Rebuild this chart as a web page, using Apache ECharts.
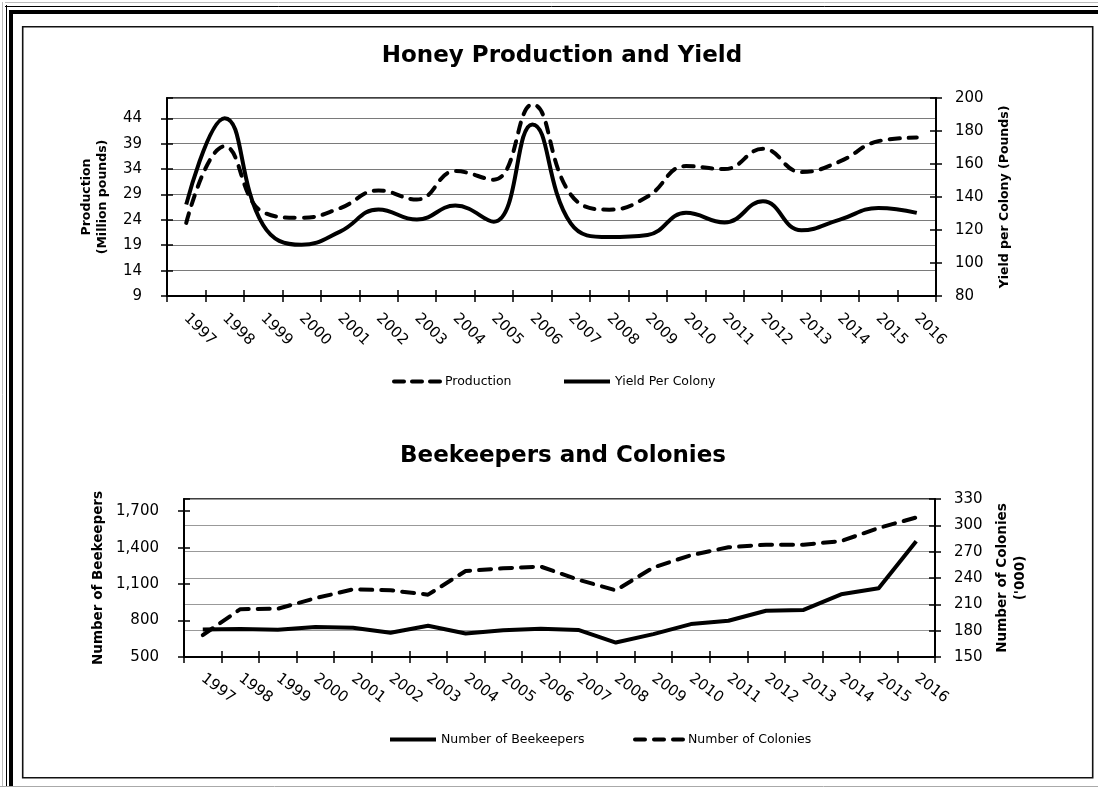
<!DOCTYPE html>
<html>
<head>
<meta charset="utf-8">
<script src="https://cdn.jsdelivr.net/npm/echarts@6/dist/echarts.min.js"></script>
<style>
html,body{margin:0;padding:0;background:#fff;}
#c{width:1098px;height:787px;}
</style>
</head>
<body>
<div id="c"></div>
<script>
const years = ['1997','1998','1999','2000','2001','2002','2003','2004','2005','2006','2007','2008','2009','2010','2011','2012','2013','2014','2015','2016'];
const production = [23.4, 38.5, 25.5, 24.4, 26.3, 29.8, 28.0, 33.6, 31.9, 46.7, 29.0, 26.0, 28.6, 34.6, 34.0, 38.0, 33.4, 35.5, 39.5, 40.2];
const yieldPerColony = [135.4, 187.8, 123, 111, 119, 132.4, 126.3, 134.8, 125, 184, 124, 115.7, 117, 130.4, 124.6, 137.4, 119.8, 126.3, 133.4, 130.4];
const beekeepers = [727, 730, 725, 746, 740, 699, 757, 694, 720, 732, 723, 619, 688, 771, 798, 881, 887, 1016, 1066, 1452];
const colonies = [175, 204.5, 205, 217, 227, 226, 221, 248, 251, 253, 238, 226, 252, 266, 275, 278, 278, 282, 297, 309];

const FONT = 'DejaVu Sans';
const chart = echarts.init(document.getElementById('c'), null, {renderer: 'canvas'});

function catAxis(grid, rotate, margin) {
  return {
    type: 'category', gridIndex: grid, data: years, boundaryGap: true,
    axisLine: {show: true, lineStyle: {color: '#000', width: 2}},
    axisTick: {show: true, interval: 0, length: 6, lineStyle: {color: '#000', width: 1.5}},
    axisLabel: {interval: 0, rotate: rotate, margin: margin, fontSize: 15, fontFamily: FONT, color: '#000'},
    splitLine: {show: false}
  };
}
function catTickAxis(grid) {
  return {
    type: 'category', gridIndex: grid, data: years, boundaryGap: true, position: 'bottom',
    axisLine: {show: false},
    axisTick: {show: true, inside: true, interval: 0, length: 6, lineStyle: {color: '#000', width: 1.5}},
    axisLabel: {show: false}, splitLine: {show: false}
  };
}
function valAxis(grid, pos, min, max, interval, opts) {
  return Object.assign({
    type: 'value', gridIndex: grid, position: pos, min: min, max: max, interval: interval,
    axisLine: {show: true, lineStyle: {color: '#000', width: 2}},
    axisTick: {show: true, length: 6, lineStyle: {color: '#000', width: 1.5}},
    axisLabel: {fontSize: 15, fontFamily: FONT, color: '#000', showMaxLabel: false},
    splitLine: {show: false},
    nameLocation: 'middle', nameRotate: 90,
    nameTextStyle: {fontFamily: FONT, fontWeight: 'bold', fontSize: 12.5, color: '#000', lineHeight: 16}
  }, opts);
}
function valTickAxis(grid, pos, min, max, interval) {
  return {
    type: 'value', gridIndex: grid, position: pos, min: min, max: max, interval: interval,
    axisLine: {show: false},
    axisTick: {show: true, inside: true, length: 6, lineStyle: {color: '#000', width: 1.5}},
    axisLabel: {show: false}, splitLine: {show: false}
  };
}
function legendItem(name, left, top, width, dash) {
  return {
    data: [name], left: left, top: top, padding: 0, itemWidth: width, itemHeight: 14, itemGap: 0,
    textStyle: {fontFamily: FONT, fontSize: 12.5, color: '#000'},
    itemStyle: {color: 'rgba(0,0,0,0)', borderWidth: 0, opacity: 0},
    lineStyle: dash ? {width: 4, type: dash, cap: 'round', color: '#000'} : {width: 4, type: 'solid', color: '#000'}
  };
}

const option = {
  backgroundColor: '#fff',
  animation: false,
  textStyle: {fontFamily: FONT},
  graphic: [
    {type: 'line', shape: {x1: 5, y1: 2.5, x2: 1098, y2: 2.5}, style: {stroke: '#bbb', lineWidth: 1}},
    {type: 'line', shape: {x1: 2.5, y1: 2, x2: 2.5, y2: 787}, style: {stroke: '#bbb', lineWidth: 1}},
    {type: 'line', shape: {x1: 5, y1: 6.5, x2: 1098, y2: 6.5}, style: {stroke: '#000', lineWidth: 1}},
    {type: 'line', shape: {x1: 6.5, y1: 5, x2: 6.5, y2: 787}, style: {stroke: '#000', lineWidth: 1}},
    {type: 'rect', shape: {x: 9, y: 10, width: 1089, height: 4}, style: {fill: '#000'}},
    {type: 'rect', shape: {x: 9, y: 10, width: 4, height: 777}, style: {fill: '#000'}},
    {type: 'line', shape: {x1: 0, y1: 786.5, x2: 1098, y2: 786.5}, style: {stroke: '#aaa', lineWidth: 1}},
    {type: 'rect', shape: {x: 22.7, y: 26.7, width: 1070, height: 751}, style: {fill: 'none', stroke: '#111', lineWidth: 1.6}}
  ],
  title: [
    {text: 'Honey Production and Yield', left: 557, textAlign: 'center', top: 40,
     textStyle: {fontFamily: FONT, fontWeight: 'bold', fontSize: 23, color: '#000'}},
    {text: 'Beekeepers and Colonies', left: 558, textAlign: 'center', top: 440,
     textStyle: {fontFamily: FONT, fontWeight: 'bold', fontSize: 23, color: '#000'}}
  ],
  legend: [
    legendItem('Production', 392, 375, 46, [10, 8]),
    legendItem('Yield Per Colony', 562, 375, 46, null),
    legendItem('Number of Beekeepers', 388, 733, 46, null),
    legendItem('Number of Colonies', 633, 733, 48, [10, 9])
  ],
  grid: [
    {left: 167, right: 162, top: 98, height: 198, show: true, borderColor: '#000', borderWidth: 1.5, containLabel: false},
    {left: 184, right: 163, top: 499, height: 158, show: true, borderColor: '#000', borderWidth: 1.5, containLabel: false}
  ],
  xAxis: [
    catAxis(0, -45, 20),
    catTickAxis(0),
    catAxis(1, -37, 20),
    catTickAxis(1)
  ],
  yAxis: [
    valAxis(0, 'left', 9, 48, 5, {
      name: 'Production\n(Million pounds)', nameGap: 56,
      axisLabel: {fontSize: 15, fontFamily: FONT, color: '#000', margin: 25, showMaxLabel: false},
      splitLine: {show: true, lineStyle: {color: '#7a7a7a', width: 1.2}}
    }),
    valAxis(0, 'right', 80, 200, 20, {
      name: 'Yield per Colony (Pounds)', nameGap: 61,
      axisLabel: {fontSize: 15, fontFamily: FONT, color: '#000', margin: 19}
    }),
    valTickAxis(0, 'left', 9, 48, 5),
    valTickAxis(0, 'right', 80, 200, 20),
    valAxis(1, 'left', 500, 1800, 300, {
      name: 'Number of Beekeepers', nameGap: 78,
      nameTextStyle: {fontFamily: FONT, fontWeight: 'bold', fontSize: 13.5, color: '#000'},
      axisLabel: {fontSize: 15, fontFamily: FONT, color: '#000', margin: 25, showMaxLabel: false,
        formatter: v => v.toLocaleString('en-US')}
    }),
    valAxis(1, 'right', 150, 330, 30, {
      name: "Number of Colonies\n('000)", nameGap: 58,
      nameTextStyle: {fontFamily: FONT, fontWeight: 'bold', fontSize: 13.5, color: '#000', lineHeight: 18},
      axisLabel: {fontSize: 15, fontFamily: FONT, color: '#000', margin: 19, showMaxLabel: true},
      splitLine: {show: true, lineStyle: {color: '#999', width: 1.2}}
    }),
    valTickAxis(1, 'left', 500, 1800, 300),
    valTickAxis(1, 'right', 150, 330, 30)
  ],
  series: [
    {name: 'Yield Per Colony', type: 'line', xAxisIndex: 0, yAxisIndex: 1, data: yieldPerColony,
     smooth: 0.45, symbol: 'none', lineStyle: {color: '#000', width: 4}, itemStyle: {color: '#000'}},
    {name: 'Production', type: 'line', xAxisIndex: 0, yAxisIndex: 0, data: production,
     smooth: 0.45, symbol: 'none', lineStyle: {color: '#000', width: 4, type: [10, 9], cap: 'round'}, itemStyle: {color: '#000'}},
    {name: 'Number of Beekeepers', type: 'line', xAxisIndex: 2, yAxisIndex: 4, data: beekeepers,
     symbol: 'none', lineStyle: {color: '#000', width: 4, join: 'round'}, itemStyle: {color: '#000'}},
    {name: 'Number of Colonies', type: 'line', xAxisIndex: 2, yAxisIndex: 5, data: colonies,
     symbol: 'none', lineStyle: {color: '#000', width: 4, type: [12, 9], cap: 'round'}, itemStyle: {color: '#000'}}
  ]
};
chart.setOption(option);
</script>
</body>
</html>
